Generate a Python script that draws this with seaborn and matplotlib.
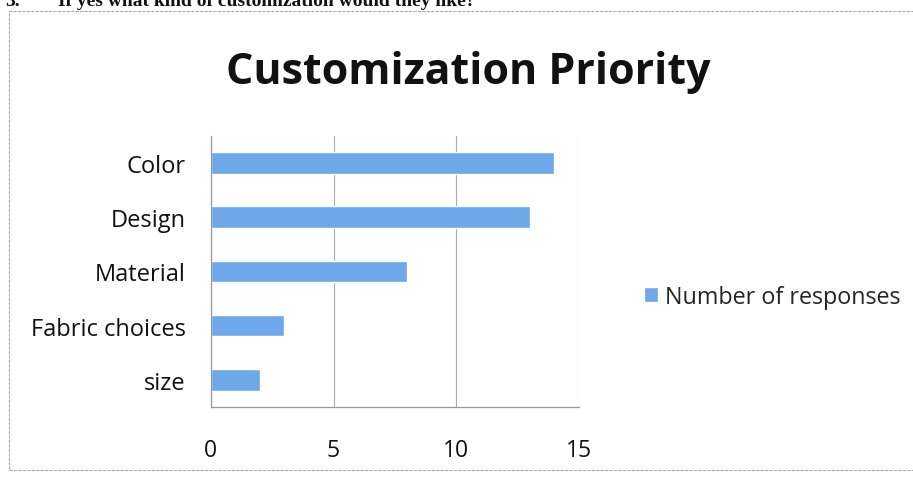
import matplotlib
matplotlib.use("Agg")
import matplotlib.pyplot as plt
import seaborn as sns
import pandas as pd
from matplotlib.patches import Rectangle

categories = ["Color", "Design", "Material", "Fabric choices", "size"]
responses = [14, 13, 8, 3, 2]
series_name = "Number of responses"
x_ticks = [0, 5, 10, 15]
title = "Customization Priority"
question_num = "3."
question = "If yes what kind of customization would they like?"

sns.set_theme(style="white")
plt.rcParams["font.family"] = ["Open Sans", "DejaVu Sans"]

df = pd.DataFrame({"category": categories, "value": responses})

fig = plt.figure(figsize=(9.13, 4.81), dpi=100)
ax = fig.add_axes([0.231, 0.152, 0.403, 0.563])

bar_color = "#6EA7EA"
sns.barplot(data=df, x="value", y="category", order=categories, color=bar_color,
            width=0.4, label=series_name, ax=ax, saturation=1)

ax.set_xlim(0, 15)
ax.set_xticks(x_ticks)
ax.set_xticklabels([str(t) for t in x_ticks], fontsize=16.5)
ax.set_ylim(4.5, -0.5)
ax.set_xlabel("")
ax.set_ylabel("")
ax.tick_params(axis="y", labelsize=17, length=0, pad=18)
ax.set_yticks([i + 0.5 for i in range(-1, 5)], minor=True)
ax.tick_params(axis="y", which="minor", length=5, color="#999999", width=0.8, direction="out")
ax.tick_params(axis="x", length=5, color="#999999", width=0.8, direction="inout", pad=20)
ax.grid(axis="x", color="#aaaaaa", linewidth=0.8)
ax.set_axisbelow(True)
for s in ["top", "right"]:
    ax.spines[s].set_visible(False)
for s in ["left", "bottom"]:
    ax.spines[s].set_color("#999999")
    ax.spines[s].set_linewidth(0.9)
for lbl in ax.get_yticklabels() + ax.get_xticklabels():
    lbl.set_color("#111111")

if ax.get_legend() is not None:
    ax.get_legend().remove()
handles, labels = ax.get_legend_handles_labels()
fig.legend(handles, labels, loc="center left", bbox_to_anchor=(0.695, 1 - 298 / 481),
           frameon=False, fontsize=16.8, handlelength=0.6, handleheight=0.6,
           handletextpad=0.3, borderaxespad=0)

fig.text(468 / 913, 1 - 72 / 481, title, ha="center", va="center",
         fontsize=31, fontweight="bold", color="#111111")

# cut-off question line at top of the page
fig.text(5 / 913, 1.0 - 1 / 481, question_num, ha="left", va="center",
         fontsize=14, fontweight="bold", family=["Liberation Serif"], color="#111111")
fig.text(58 / 913, 1.0 - 1 / 481, question, ha="left", va="center",
         fontsize=14, fontweight="bold", family=["Liberation Serif"], color="#111111")

# chart area border
fig.patches.append(Rectangle((9 / 913, 10 / 481), 1.2, 1 - 22 / 481,
                             transform=fig.transFigure, fill=False,
                             edgecolor="#aaaaaa", linewidth=0.8, linestyle=(0, (3, 1))))

fig.savefig("out.png", dpi=100, facecolor="white")
